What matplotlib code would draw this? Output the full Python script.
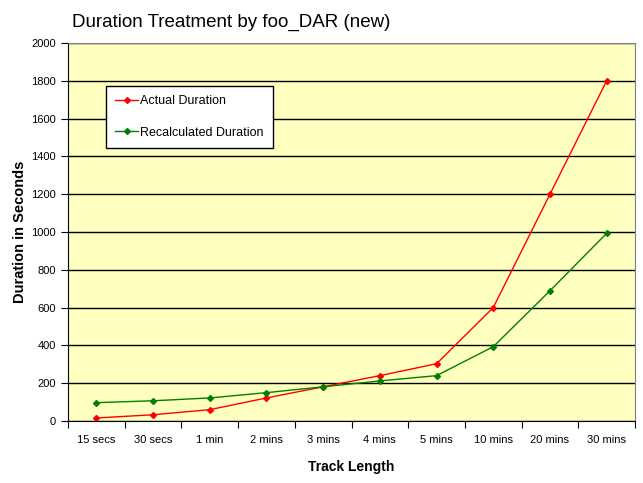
import matplotlib
matplotlib.use("Agg")
import matplotlib.pyplot as plt
import numpy as np

categories = ["15 secs", "30 secs", "1 min", "2 mins", "3 mins", "4 mins",
              "5 mins", "10 mins", "20 mins", "30 mins"]
actual = [16, 33, 60, 122, 181, 240, 303, 600, 1200, 1800]
recalculated = [97, 107, 122, 150, 181, 212, 240, 393, 689, 993]
yticks = list(range(0, 2001, 200))

plt.rcParams['font.family'] = ['Liberation Sans', 'DejaVu Sans']

fig = plt.figure(figsize=(6.43, 4.83), dpi=100)
fig.patch.set_facecolor('white')
ax = fig.add_axes([68/643, 62/483, 567/643, 378/483])
ax.set_facecolor('#FFFFC0')

x = np.arange(len(categories))
ax.plot(x, actual, color='#FF0000', lw=1, marker='D', ms=3, label='Actual Duration')
ax.plot(x, recalculated, color='#008000', lw=1, marker='D', ms=3, label='Recalculated Duration')

ax.set_xlim(-0.5, len(categories) - 0.5)
ax.set_ylim(0, 2000)
ax.set_yticks(yticks)
ax.set_yticklabels([str(v) for v in yticks], fontsize=8)
ax.yaxis.grid(True, color='black', lw=1)
ax.set_axisbelow(True)

ax.set_xticks(np.arange(-0.5, len(categories), 1.0))
ax.set_xticklabels([])
ax.set_xticks(x, minor=True)
ax.set_xticklabels(categories, minor=True, fontsize=8)
ax.tick_params(axis='x', which='minor', length=0, pad=10)
ax.tick_params(axis='x', which='major', length=5, direction='out', color='black')
ax.tick_params(axis='y', length=5, direction='out', color='black')

for s in ['top', 'right']:
    ax.spines[s].set_color('#808080')
ax.spines['left'].set_color('black')
ax.spines['bottom'].set_color('black')

ax.set_xlabel('Track Length', fontsize=10, fontweight='bold', labelpad=11)
ax.set_ylabel('Duration in Seconds', fontsize=10.5, fontweight='bold', labelpad=3)
fig.text(72/643, 1 - 22/483, 'Duration Treatment by foo_DAR (new)', fontsize=13.5,
         ha='left', va='center')

leg = ax.legend(loc='upper left', bbox_to_anchor=(38/567, 335/378), frameon=True,
                fancybox=False, edgecolor='black', facecolor='white', framealpha=1,
                fontsize=9, handlelength=1.8, handletextpad=0.2, labelspacing=1.55,
                borderpad=0.75, borderaxespad=0)
leg.get_frame().set_linewidth(1)

fig.savefig('out.png', dpi=100)
